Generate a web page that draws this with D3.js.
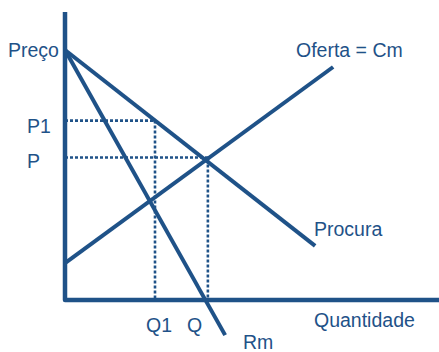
<!DOCTYPE html>
<html>
<head>
<meta charset="utf-8">
<script src="https://cdn.jsdelivr.net/npm/d3@7"></script>
<style>
  body { margin: 0; background: #fff; }
  text { font-family: "Liberation Sans", Arial, sans-serif; font-size: 19.5px; fill: #1f5288; }
</style>
</head>
<body>
<div id="chart"></div>
<script>
const width = 439
const height = 352
const color = '#1f5288'

// lines in chart units (quantity 0-100, price 0-100)
const procura = [[0, 86.8], [66.7, 18.8]]
const receitaMarginal = [[0, 86.8], [42.7, -12.2]]
const oferta = [[0, 12.8], [71.5, 80.9]]

// dotted guides: [quantity, price]
const guides = [
  {name: '1', q: 24, p: 62.3},
  {name: '', q: 38.1, p: 49.5}
]

const x = d3.scaleLinear().domain([0, 100]).range([65, 440])
const y = d3.scaleLinear().domain([0, 100]).range([300, 12])

const svg = d3.select('#chart')
  .append('svg')
  .attr('width', width)
  .attr('height', height)

const line = d3.line()
  .x(d => x(d[0]))
  .y(d => y(d[1]))

// dotted lines first, so solid lines sit on top
guides.forEach(g => {
  svg.append('path')
    .attr('d', line([[0, g.p], [g.q, g.p], [g.q, 0]]))
    .attr('fill', 'none')
    .attr('stroke', color)
    .attr('stroke-width', 2.6)
    .attr('stroke-dasharray', '3,2')
})

const curves = [procura, receitaMarginal, oferta]
svg.selectAll('path.curve')
  .data(curves)
  .enter()
  .append('path')
  .attr('class', 'curve')
  .attr('d', d => line(d))
  .attr('fill', 'none')
  .attr('stroke', color)
  .attr('stroke-width', 4)
  .attr('stroke-linecap', 'butt')

// axes as plain thick lines
svg.append('path')
  .attr('d', line([[0, 100], [0, 0], [100, 0]]))
  .attr('fill', 'none')
  .attr('stroke', color)
  .attr('stroke-width', 4.5)
  .attr('stroke-linejoin', 'round')

// labels
svg.append('text').attr('x', 8).attr('y', 57).text('Preço')
svg.append('text').attr('x', 27).attr('y', y(guides[0].p) + 12).text('P1')
svg.append('text').attr('x', 27).attr('y', y(guides[1].p) + 11).text('P')
svg.append('text').attr('x', 146).attr('y', 332).text('Q1')
svg.append('text').attr('x', 187).attr('y', 332).text('Q')
svg.append('text').attr('x', 243).attr('y', 349).text('Rm')
svg.append('text').attr('x', 314).attr('y', 327).text('Quantidade')
svg.append('text').attr('x', 314).attr('y', 236).text('Procura')
svg.append('text').attr('x', 296).attr('y', 57).text('Oferta = Cm')
</script>
</body>
</html>
